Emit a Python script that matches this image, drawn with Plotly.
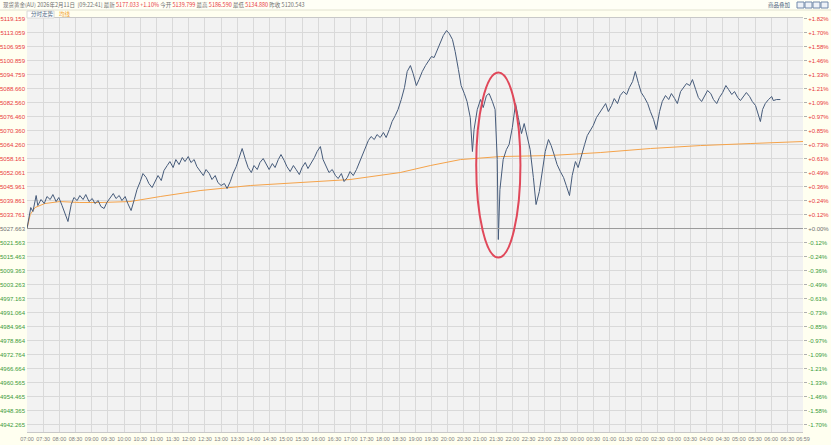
import plotly.graph_objects as go

# minutes after 07:00 and price of the intraday line
minutes = [0, 4, 7, 11, 17, 20, 26, 32, 37, 43, 48, 54, 59, 65, 71, 76, 82, 87, 93, 98,
           104, 109, 115, 121, 126, 132, 137, 143, 148, 154, 160, 165, 171, 176, 182, 187, 193, 199,
           204, 210, 215, 221, 226, 232, 238, 243, 249, 254, 260, 265, 271, 276, 282, 288, 293, 299,
           304, 310, 315, 321, 327, 332, 338, 343, 349, 354, 360, 366, 371, 377, 382, 388, 393, 399,
           405, 410, 416, 421, 427, 432, 438, 444, 449, 455, 460, 466, 471, 477, 482, 488, 494, 499,
           505, 510, 516, 521, 527, 533, 538, 544, 549, 555, 560, 566, 572, 577, 583, 588, 594, 599,
           605, 611, 616, 622, 627, 633, 638, 644, 649, 655, 661, 666, 672, 677, 683, 688, 694, 700,
           705, 711, 716, 722, 727, 733, 739, 744, 750, 755, 761, 766, 772, 778, 783, 789, 794, 800,
           805, 811, 816, 822, 826, 829, 835, 841, 846, 852, 857, 863, 868, 872, 874, 877, 883, 889,
           894, 900, 906, 911, 917, 922, 928, 933, 939, 944, 950, 956, 961, 967, 972, 978, 983, 989,
           995, 1000, 1006, 1011, 1017, 1022, 1028, 1034, 1039, 1045, 1050, 1056, 1061, 1067, 1073,
           1078, 1084, 1089, 1095, 1100, 1106, 1112, 1117, 1123, 1128, 1134, 1139, 1145, 1151, 1156,
           1162, 1167, 1173, 1178, 1184, 1190, 1195, 1201, 1206, 1212, 1217, 1223, 1229, 1234, 1240,
           1245, 1251, 1257, 1262, 1268, 1273, 1279, 1284, 1290, 1296, 1301, 1307, 1312, 1318, 1323,
           1329, 1334, 1340, 1345, 1351, 1357, 1360, 1364, 1369, 1375, 1381, 1384, 1390, 1397]
prices = [5027.66, 5033.76, 5036.81, 5035.07, 5042.04, 5037.68, 5040.30, 5038.55, 5041.60, 5040.30,
          5042.47, 5039.42, 5041.17, 5037.68, 5034.20, 5030.71, 5038.11, 5041.17, 5039.86, 5042.04,
          5040.30, 5042.47, 5039.42, 5040.73, 5038.55, 5039.86, 5037.25, 5036.38, 5038.99, 5041.17,
          5042.91, 5040.73, 5042.04, 5039.86, 5041.60, 5038.55, 5035.50, 5040.30,
          5044.65, 5048.14, 5051.62, 5049.88, 5047.27, 5045.52, 5048.57, 5050.75, 5048.57, 5052.93,
          5055.11, 5056.85, 5054.24, 5057.72, 5055.54, 5058.60, 5056.85, 5059.03,
          5056.42, 5057.72, 5054.67, 5052.93, 5050.75, 5053.37, 5051.62, 5049.01, 5050.75, 5047.70,
          5046.40, 5047.27, 5045.09, 5048.14, 5051.62, 5054.67, 5058.60, 5062.52,
          5057.72, 5054.24, 5052.06, 5055.11, 5053.37, 5056.42, 5058.16, 5055.54, 5053.37, 5055.98,
          5054.24, 5057.72, 5059.90, 5057.29, 5054.67, 5052.49, 5055.11, 5053.37,
          5051.19, 5054.24, 5056.42, 5053.80, 5055.98, 5058.60, 5061.21, 5063.39, 5057.72, 5054.24,
          5052.06, 5053.37, 5050.75, 5049.45, 5051.62, 5048.14, 5049.88, 5052.49,
          5050.75, 5053.37, 5056.42, 5059.90, 5062.95, 5066.00, 5067.75, 5066.44, 5068.62, 5067.31,
          5069.49, 5067.31, 5070.80, 5074.28, 5076.90, 5079.51, 5083.87, 5089.10,
          5096.07, 5098.68, 5095.19, 5089.97, 5092.58, 5096.07, 5098.68, 5100.42, 5102.60, 5102.17,
          5105.65, 5109.14, 5111.75, 5113.93, 5112.62, 5110.01, 5104.78, 5096.94,
          5089.97, 5086.48, 5083.00, 5076.02, 5061.21, 5070.80, 5079.51, 5083.87, 5080.38, 5085.61,
          5086.48, 5083.00, 5079.51, 5057.72, 5022.87, 5044.65, 5057.72, 5062.08,
          5064.26, 5071.67, 5082.12, 5076.02, 5069.05, 5073.41, 5067.31, 5062.08, 5049.88, 5038.11,
          5043.78, 5054.24, 5061.21, 5066.44, 5063.82, 5059.47, 5055.54, 5052.49,
          5049.88, 5046.40, 5042.04, 5050.75, 5056.85, 5054.24, 5059.90, 5064.26, 5068.18, 5070.80,
          5072.54, 5076.02, 5077.77, 5080.38, 5082.12,
          5078.64, 5081.25, 5084.30, 5082.12, 5085.61, 5087.35, 5086.05, 5089.10, 5091.71, 5096.07,
          5090.84, 5086.92, 5084.74, 5082.12, 5078.64,
          5075.15, 5070.80, 5078.64, 5083.00, 5085.61, 5083.87, 5086.48, 5084.30, 5082.12, 5087.35,
          5089.10, 5090.84, 5089.97, 5092.58, 5088.22,
          5084.74, 5083.00, 5085.61, 5087.79, 5086.48, 5083.87, 5082.12, 5084.74, 5086.92, 5089.97,
          5088.22, 5086.05, 5087.35, 5084.74, 5083.43,
          5085.61, 5086.92, 5085.17, 5083.00, 5081.25, 5076.90, 5074.28, 5079.51, 5082.12, 5083.87,
          5085.17, 5083.43, 5083.87, 5083.87]

# average price line
avg_minutes = [0, 6, 15, 33, 61, 98, 135, 191, 247, 321, 414, 506, 599, 692, 748, 804,
               878, 970, 1063, 1156, 1249, 1341, 1439]
avg_prices = [5027.66, 5033.76, 5036.81, 5038.55, 5039.42, 5038.99, 5038.99, 5039.42, 5041.60,
              5044.21, 5046.40, 5047.70, 5049.01, 5052.06, 5055.11, 5057.72, 5059.03, 5059.47,
              5060.77, 5062.52, 5063.82, 5064.69, 5065.57]

price_ticks = [5119.159, 5113.059, 5106.959, 5100.859, 5094.759, 5088.660, 5082.560, 5076.460,
               5070.360, 5064.260, 5058.161, 5052.061, 5045.961, 5039.861, 5033.761, 5027.663,
               5021.563, 5015.463, 5009.363, 5003.263, 4997.163, 4991.064, 4984.964, 4978.864,
               4972.764, 4966.664, 4960.565, 4954.465, 4948.365, 4942.265]
pct_labels = ["+1.82%", "+1.70%", "+1.58%", "+1.46%", "+1.33%", "+1.21%", "+1.09%", "+0.97%",
              "+0.85%", "+0.73%", "+0.61%", "+0.49%", "+0.36%", "+0.24%", "+0.12%", "+0.00%",
              "-0.12%", "-0.24%", "-0.36%", "-0.49%", "-0.61%", "-0.73%", "-0.85%", "-0.97%",
              "-1.09%", "-1.21%", "-1.33%", "-1.46%", "-1.58%", "-1.70%"]
time_ticks = [0, 30, 60, 90, 120, 150, 180, 210, 240, 270, 300, 330, 360, 390, 420, 450, 480,
              510, 540, 570, 600, 630, 660, 690, 720, 750, 780, 810, 840, 870, 900, 930, 960,
              990, 1020, 1050, 1080, 1110, 1140, 1170, 1200, 1230, 1260, 1290, 1320, 1350, 1380,
              1410, 1439]
time_labels = ["07:00", "07:30", "08:00", "08:30", "09:00", "09:30", "10:00", "10:30", "11:00",
               "11:30", "12:00", "12:30", "13:00", "13:30", "14:00", "14:30", "15:00", "15:30",
               "16:00", "16:30", "17:00", "17:30", "18:00", "18:30", "19:00", "19:30", "20:00",
               "20:30", "21:00", "21:30", "22:00", "22:30", "23:00", "23:30", "00:00", "00:30",
               "01:00", "01:30", "02:00", "02:30", "03:00", "03:30", "04:00", "04:30", "05:00",
               "05:30", "06:00", "06:30", "06:59"]
prev_close = 5027.663

RED = "#e8383c"
GREEN = "#3a9a3a"
GRAY = "#707070"


def colored(text, val):
    if val > prev_close + 0.01:
        c = RED
    elif val < prev_close - 0.01:
        c = GREEN
    else:
        c = GRAY
    return "<span style='color:%s'>%s</span>" % (c, text)


left_text = [colored("%.3f" % v, v) for v in price_ticks]
right_text = [colored(t, v) for t, v in zip(pct_labels, price_ticks)]

L, R, T, B = 27, 28, 18, 13
W, H = 831, 445
pw, ph = W - L - R, H - T - B


def px(x):
    return (x - L) / pw


def py(y):
    return (H - B - y) / ph


yrange = [4939.0, 5119.4]

fig = go.Figure()
fig.add_trace(go.Scatter(x=avg_minutes, y=avg_prices, mode="lines",
                         line=dict(color="#f5a34a", width=1), hoverinfo="skip", showlegend=False))
fig.add_trace(go.Scatter(x=minutes, y=prices, mode="lines",
                         line=dict(color="#465b7a", width=1), showlegend=False))
fig.add_trace(go.Scatter(x=[minutes[0]], y=[prices[0]], yaxis="y2", mode="none",
                         hoverinfo="skip", showlegend=False))

tick_font = dict(family="Liberation Sans, Arial", size=6, color=GRAY)

fig.update_layout(
    width=W, height=H,
    margin=dict(l=L, r=R, t=T, b=B, pad=0),
    paper_bgcolor="#fffff0",
    plot_bgcolor="#f2f2f2",
    xaxis=dict(range=[0, 1439], tickvals=time_ticks, ticktext=time_labels, automargin=False,
               showgrid=True, gridcolor="#d9d9d9", gridwidth=1, zeroline=False,
               showline=True, linecolor="#c8c8c8", mirror=True, tickangle=0,
               ticks="", tickfont=dict(family="Liberation Sans, Arial", size=5.5, color="#808080"),
               ticklabelstandoff=1),
    yaxis=dict(range=yrange, tickvals=price_ticks, ticktext=left_text, automargin=False,
               showgrid=True, gridcolor="#d9d9d9", gridwidth=1, zeroline=False,
               ticks="", tickfont=tick_font, ticklabelstandoff=1),
    yaxis2=dict(range=yrange, overlaying="y", side="right", tickvals=price_ticks,
                ticktext=right_text, showgrid=False, zeroline=False, automargin=False,
                ticks="outside", ticklen=3, tickcolor="#b0b0b0", tickfont=tick_font),
    hovermode=False,
)

# zero (previous close) line
fig.add_shape(type="line", xref="paper", x0=0, x1=1, yref="y", y0=prev_close, y1=prev_close,
              line=dict(color="#9a9a9a", width=1))

# red ellipse around the spike
fig.add_shape(type="circle", xref="x", yref="y", x0=833, x1=915, y0=5015.0, y1=5095.6,
              line=dict(color="#e0485a", width=2))

# header band
fig.add_shape(type="rect", xref="paper", yref="paper", x0=px(0), x1=px(W), y0=py(10), y1=py(0),
              fillcolor="#fffff6", line=dict(width=0), layer="below")
fig.add_shape(type="line", xref="paper", yref="paper", x0=px(0), x1=px(W), y0=py(10), y1=py(10),
              line=dict(color="#e2e2d0", width=1))
fig.add_shape(type="rect", xref="paper", yref="paper", x0=px(27), x1=px(54), y0=py(18), y1=py(11),
              fillcolor="#ffffff", line=dict(color="#d8d8d8", width=1))

hdr_font = dict(family="Noto Sans CJK SC", size=5.5, color=GRAY)
header = ("现货黄金(AU) 2026年2月11日&nbsp;&nbsp;[09:22:41] 最新 "
          "<span style='color:%s'>5177.033 +1.10%%</span> 今开 "
          "<span style='color:%s'>5139.799</span> 最高 "
          "<span style='color:%s'>5186.590</span> 最低 "
          "<span style='color:%s'>5134.880</span> 昨收 5120.543") % (RED, RED, RED, RED)
fig.add_annotation(text=header, xref="paper", yref="paper", x=px(1), y=py(5),
                   xanchor="left", yanchor="middle", showarrow=False, font=hdr_font)
fig.add_annotation(text="商品叠加", xref="paper", yref="paper", x=px(766), y=py(5),
                   xanchor="left", yanchor="middle", showarrow=False,
                   font=dict(family="Noto Sans CJK SC", size=5.5, color="#4a5f7e"))
for i in range(4):
    fig.add_shape(type="rect", xref="paper", yref="paper",
                  x0=px(797 + i * 8), x1=px(804 + i * 8), y0=py(8), y1=py(2),
                  fillcolor="#eef2f8", line=dict(color="#7088aa", width=1))
fig.add_annotation(text="分时走势", xref="paper", yref="paper", x=px(29), y=py(14.5),
                   xanchor="left", yanchor="middle", showarrow=False,
                   font=dict(family="Noto Sans CJK SC", size=5.5, color="#4a5f7e"))
fig.add_annotation(text="均线", xref="paper", yref="paper", x=px(57), y=py(14.5),
                   xanchor="left", yanchor="middle", showarrow=False,
                   font=dict(family="Noto Sans CJK SC", size=5.5, color="#f0a030"))

# the page body has a default 8px margin; drop it so the figure fills the window
fig.write_html("out.html", config={"displayModeBar": False},
               post_script="document.body.style.margin='0';")
